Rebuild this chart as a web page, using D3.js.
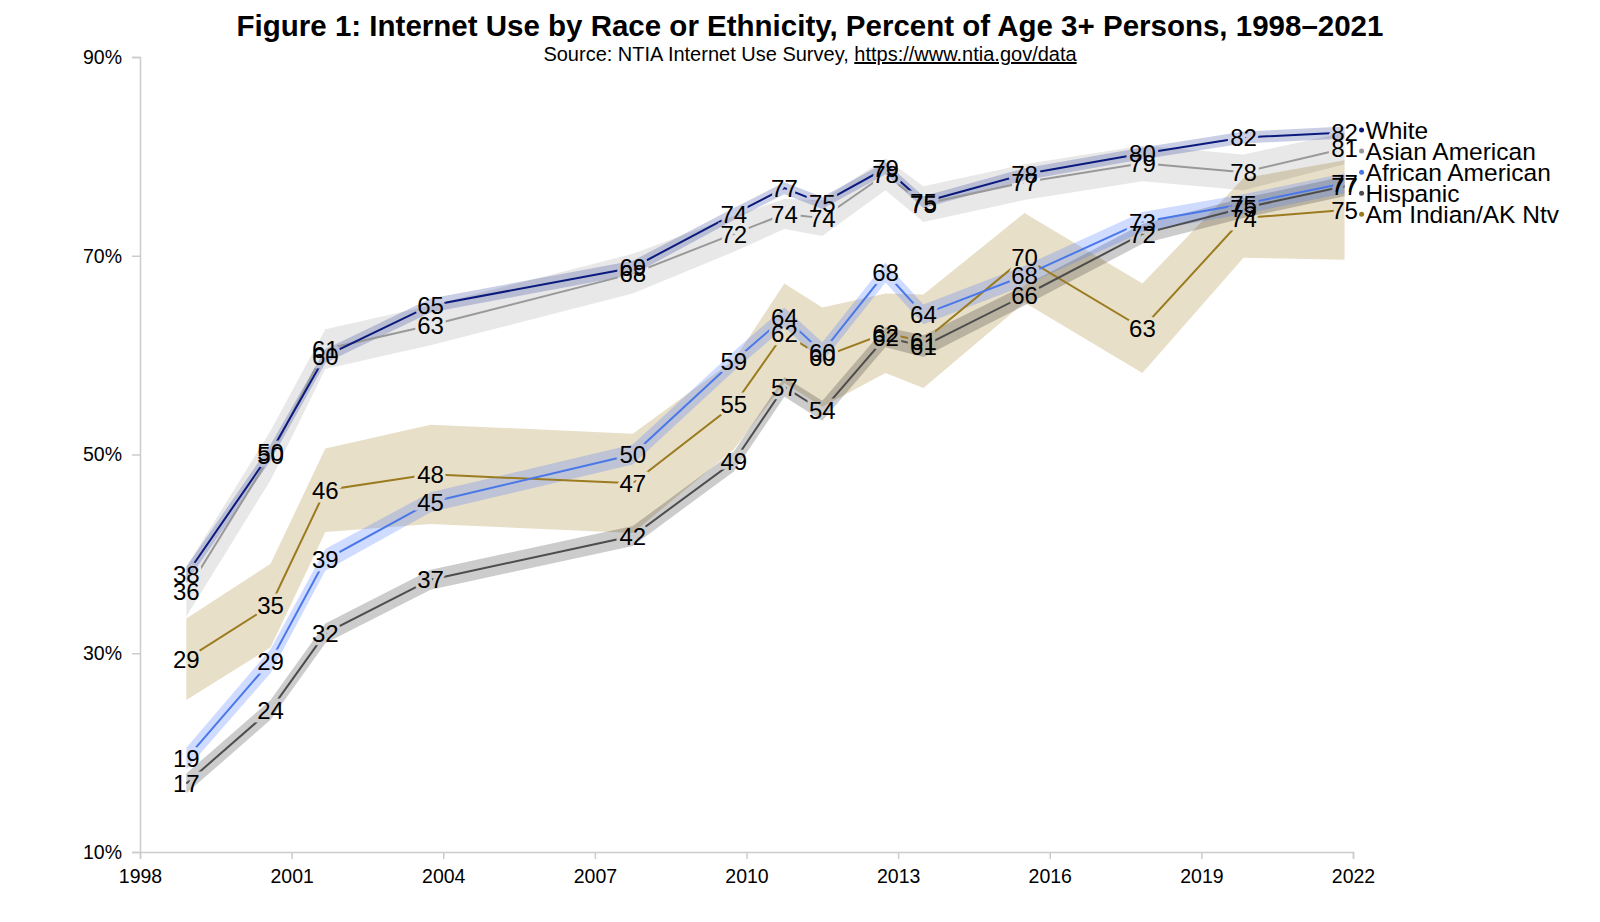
<!DOCTYPE html>
<html lang="en">
  <head>
    <meta charset="UTF-8" />
    <title>Internet Use by Race or Ethnicity</title>
    <style>
      body {
        margin: 0;
        background: #fff;
      }
      svg {
        font-family: Helvetica, "Liberation Sans", Arial, sans-serif;
      }
      .axis path,
      .axis line {
        stroke: #ccc;
        stroke-width: 1.5;
      }
      .axis text {
        font-size: 19.5px;
        fill: #000;
      }
    </style>
  </head>
  <body>
    <svg id="chart"></svg>
    <script src="https://cdnjs.cloudflare.com/ajax/libs/d3/7.8.5/d3.min.js"></script>
    <script>
      // survey months
      const dates = ["1998-12", "2000-08", "2001-09", "2003-10", "2007-10", "2009-10", "2010-10",
        "2011-07", "2012-10", "2013-07", "2015-07", "2017-11", "2019-11", "2021-11"];

      const names = ["White", "Asian American", "African American", "Hispanic", "Am Indian/AK Ntv"];

      // percent of persons age 3+
      const white    = [37.9, 50.2, 59.9, 65.0, 68.8, 74.2, 76.8, 75.3, 78.8, 75.4, 78.2, 80.3, 81.9, 82.4];
      const asian    = [36.2, 49.9, 60.6, 63.0, 68.2, 72.2, 74.2, 73.8, 78.2, 75.2, 77.4, 79.3, 78.4, 80.8];
      const black    = [19.4, 29.2, 39.4, 45.2, 50.0, 59.4, 63.8, 60.3, 68.3, 64.1, 68.0, 73.4, 75.2, 77.3];
      const hispanic = [16.9, 24.3, 32.0, 37.4, 41.8, 49.3, 56.8, 54.4, 61.8, 60.9, 66.0, 72.2, 74.8, 77.0];
      const amind    = [29.4, 34.8, 46.4, 48.0, 47.1, 55.0, 62.2, 59.8, 62.2, 61.4, 69.8, 62.7, 73.8, 74.6];

      // margins of error (+/- points)
      const whiteMoe    = [0.8, 0.8, 0.7, 0.7, 0.7, 0.6, 0.6, 0.6, 0.6, 0.6, 0.6, 0.6, 0.6, 0.6];
      const asianMoe    = [2.5, 2.5, 2.0, 2.0, 2.0, 1.8, 1.5, 1.8, 1.6, 1.8, 1.8, 1.8, 1.8, 1.6];
      const blackMoe    = [1.1, 1.2, 1.1, 1.0, 1.0, 1.0, 1.0, 1.0, 1.0, 1.0, 1.0, 1.0, 1.0, 1.0];
      const hispanicMoe = [1.0, 1.0, 1.0, 1.0, 1.0, 1.0, 1.0, 1.0, 1.0, 1.1, 1.0, 1.0, 1.0, 1.0];
      const amindMoe    = [4.1, 4.2, 4.2, 5.0, 5.0, 4.5, 5.0, 5.0, 4.0, 4.7, 4.5, 4.5, 4.0, 5.0];

      const xTicks = [1998, 2001, 2004, 2007, 2010, 2013, 2016, 2019, 2022];
      const yTicks = [10, 30, 50, 70, 90];

      const lineColors = ["#0b1a7d", "#999999", "#4a78e8", "#4d4d4d", "#9b7b1f"];
      const bandColors = ["rgba(20,35,140,0.22)", "rgba(0,0,0,0.09)", "rgba(70,120,255,0.26)",
        "rgba(0,0,0,0.2)", "rgba(163,127,35,0.25)"];

      const W = 1560, H = 922;
      const svg = d3.select("#chart").attr("width", W).attr("height", H);

      const x = d3.scaleLinear().domain([1998, 2022]).range([140, 1353]);
      const y = d3.scaleLinear().domain([10, 90]).range([852, 57]);

      const t = dates.map((s) => {
        const [yr, mo] = s.split("-").map(Number);
        return yr + (mo - 1) / 12;
      });

      const vals = [white, asian, black, hispanic, amind];
      const moes = [whiteMoe, asianMoe, blackMoe, hispanicMoe, amindMoe];
      const series = names.map((name, i) => ({
        name,
        i,
        pts: t.map((d, j) => ({ t: d, v: vals[i][j], m: moes[i][j] })),
      }));

      // title
      svg.append("text")
        .attr("x", 810).attr("y", 36)
        .attr("text-anchor", "middle")
        .attr("font-size", 29.5).attr("font-weight", "bold")
        .text("Figure 1: Internet Use by Race or Ethnicity, Percent of Age 3+ Persons, 1998–2021");

      const src = svg.append("text")
        .attr("x", 810).attr("y", 61)
        .attr("text-anchor", "middle")
        .attr("font-size", 20);
      src.append("tspan").text("Source: NTIA Internet Use Survey, ");
      src.append("tspan").attr("text-decoration", "underline").text("https://www.ntia.gov/data");

      // axes
      svg.append("g").attr("class", "axis")
        .attr("transform", `translate(0,${y(10)})`)
        .call(d3.axisBottom(x).tickValues(xTicks).tickFormat(d3.format("d")).tickSize(7).tickPadding(10));

      svg.append("g").attr("class", "axis")
        .attr("transform", `translate(${x(1998)},0)`)
        .call(d3.axisLeft(y).tickValues(yTicks).tickFormat((d) => d + "%").tickSize(8).tickPadding(10));

      // bands
      const area = d3.area().x((d) => x(d.t)).y0((d) => y(d.v - d.m)).y1((d) => y(d.v + d.m));
      svg.append("g").selectAll("path")
        .data(series.slice().reverse())
        .join("path")
        .attr("d", (s) => area(s.pts))
        .attr("fill", (s) => bandColors[s.i]);

      // labels knock holes in the lines
      const labels = series.flatMap((s) => s.pts.map((p) => ({ ...p, i: s.i })));
      const defs = svg.append("defs");
      const mask = defs.append("mask").attr("id", "cut")
        .attr("maskUnits", "userSpaceOnUse")
        .attr("x", 0).attr("y", 0).attr("width", W).attr("height", H);
      mask.append("rect").attr("width", W).attr("height", H).attr("fill", "white");
      mask.selectAll("text").data(labels).join("text")
        .attr("x", (d) => x(d.t)).attr("y", (d) => y(d.v))
        .attr("dy", "0.36em").attr("text-anchor", "middle")
        .attr("font-size", 24)
        .attr("fill", "black").attr("stroke", "black").attr("stroke-width", 7)
        .text((d) => Math.round(d.v));

      const line = d3.line().x((d) => x(d.t)).y((d) => y(d.v));
      svg.append("g").attr("mask", "url(#cut)")
        .selectAll("path")
        .data(series.slice().reverse())
        .join("path")
        .attr("d", (s) => line(s.pts))
        .attr("fill", "none")
        .attr("stroke", (s) => lineColors[s.i])
        .attr("stroke-width", 2);

      svg.append("g").selectAll("text").data(labels).join("text")
        .attr("x", (d) => x(d.t)).attr("y", (d) => y(d.v))
        .attr("dy", "0.36em").attr("text-anchor", "middle")
        .attr("font-size", 24)
        .attr("fill", "#000")
        .text((d) => Math.round(d.v));

      // end legend, dodged so names don't collide
      const last = series.map((s) => ({ s, ty: y(s.pts[s.pts.length - 1].v) }));
      last.forEach((d) => (d.y = d.ty));
      const gap = 21;
      for (let k = 0; k < 300; k++) {
        last.sort((a, b) => a.y - b.y);
        for (let j = 1; j < last.length; j++) {
          const o = gap - (last[j].y - last[j - 1].y);
          if (o > 0) {
            last[j - 1].y -= o / 2;
            last[j].y += o / 2;
          }
        }
      }
      const lx = x(t[t.length - 1]);
      const leg = svg.append("g").selectAll("g").data(last).join("g")
        .attr("transform", (d) => `translate(${lx + 17},${d.y})`);
      leg.append("circle").attr("r", 2.5).attr("fill", (d) => lineColors[d.s.i]);
      leg.append("text")
        .attr("x", 4).attr("dy", "0.36em")
        .attr("font-size", 24.5)
        .text((d) => d.s.name);
    </script>
  </body>
</html>
